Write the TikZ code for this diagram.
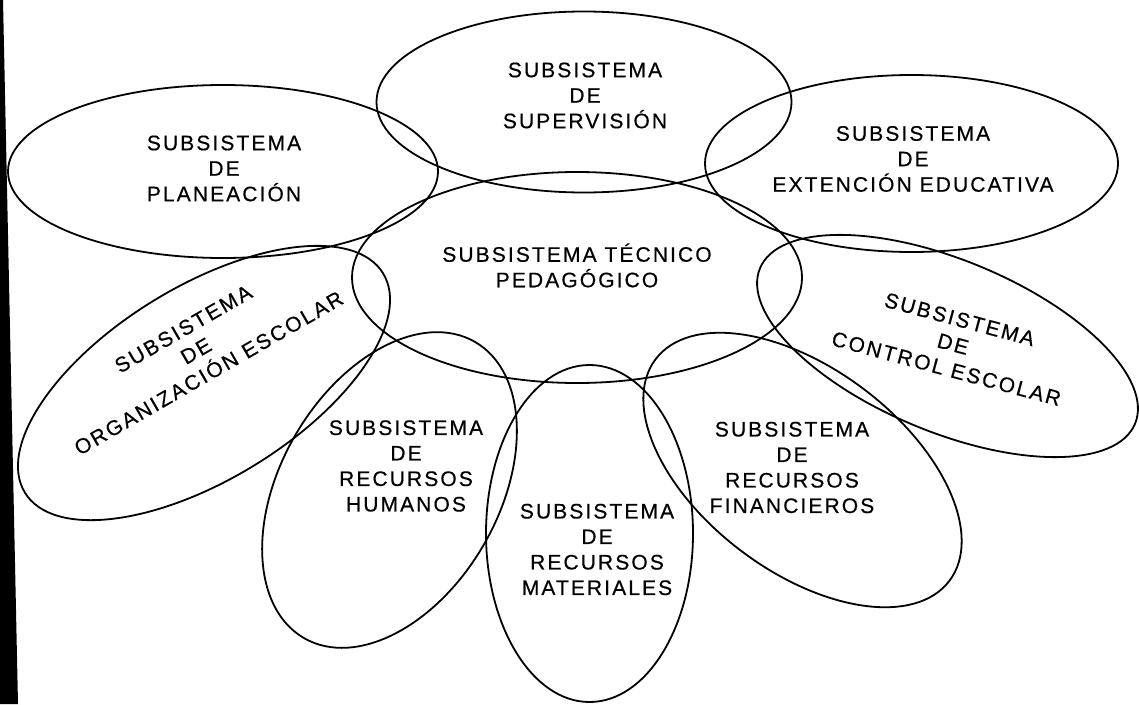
\documentclass[tikz,border=0pt]{standalone}
\usepackage{fontspec}
\setmainfont{Liberation Sans}[LetterSpace=10, FakeBold=0.5]
\usetikzlibrary{shapes.geometric}
\begin{document}
\begin{tikzpicture}[x=1pt, y=-1pt,
    sub/.style={ellipse, draw, line width=1.8pt, inner sep=0pt},
    lbl/.style={align=center, inner sep=0pt, font=\fontsize{21}{25.5}\selectfont}]
    \useasboundingbox (0,0) rectangle (1139,704);
    \fill (0,0) -- (3,0) -- (18,704) -- (0,704) -- cycle; % 左边黑条
    \foreach \n/\x/\y/\w/\h/\a in {plan/223/171.5/430/173/0, sup/584/102/415/181/0,
        ext/911.5/163.5/413/177/0, tec/577/277.5/450/211/0, org/204/383/420/193/31.5,
        hum/389.5/490/342/218/60, mat/589.5/533.5/207/337/0, fin/802.5/470/368/203/-37,
        ctl/947.5/346/406/172/-22.5}
    \node[sub, minimum width=\w pt, minimum height=\h pt, rotate=\a] (\n) at (\x,\y) {};
    \node[lbl] (tec-t) at (577,265.5) {SUBSISTEMA TÉCNICO\\PEDAGÓGICO}; % 中心
    \node[lbl] (plan-t) at (224,168.5) {SUBSISTEMA\\DE\\PLANEACIÓN};
    \node[lbl] (sup-t) at (585,95.5) {SUBSISTEMA\\DE\\SUPERVISIÓN};
    \node[lbl] (ext-t) at (913,159) {SUBSISTEMA\\DE\\EXTENCIÓN EDUCATIVA};
    \node[lbl, rotate=30] (org-t) at (196,351) {SUBSISTEMA\\DE\\ORGANIZACIÓN ESCOLAR};
    \node[lbl] (hum-t) at (406,466) {SUBSISTEMA\\DE\\RECURSOS\\HUMANOS};
    \node[lbl] (mat-t) at (597,549.5) {SUBSISTEMA\\DE\\RECURSOS\\MATERIALES};
    \node[lbl] (fin-t) at (792,467.5) {SUBSISTEMA\\DE\\RECURSOS\\FINANCIEROS};
    \node[lbl, rotate=-15] (ctl-t) at (953,344) {SUBSISTEMA\\DE\\CONTROL ESCOLAR};
\end{tikzpicture}
\end{document}
